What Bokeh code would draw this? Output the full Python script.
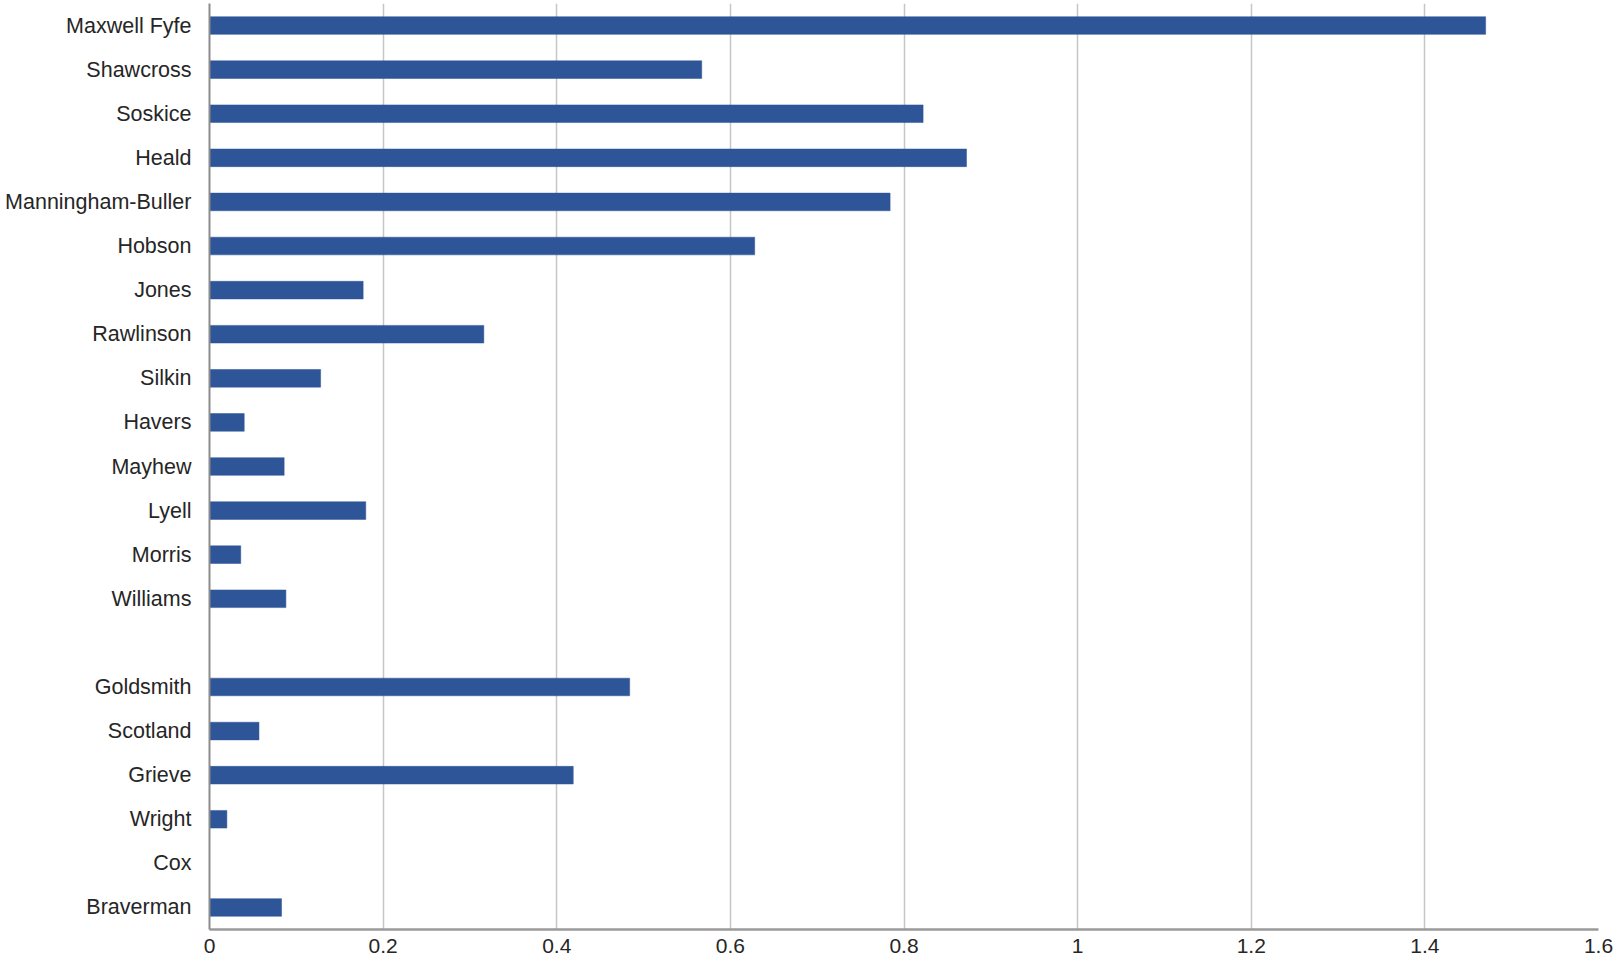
from bokeh.plotting import figure
from bokeh.models import FactorRange, FixedTicker, Range1d
from bokeh.embed import file_html
from bokeh.resources import INLINE

names = ["Maxwell Fyfe", "Shawcross", "Soskice", "Heald", "Manningham-Buller",
         "Hobson", "Jones", "Rawlinson", "Silkin", "Havers", "Mayhew", "Lyell",
         "Morris", "Williams", " ", "Goldsmith", "Scotland", "Grieve", "Wright",
         "Cox", "Braverman"]
values = [1.47, 0.567, 0.822, 0.872, 0.784, 0.628, 0.177, 0.316, 0.128, 0.040,
          0.086, 0.180, 0.036, 0.088, 0.0, 0.484, 0.057, 0.419, 0.02, 0.0, 0.083]
tick_values = [0, 0.2, 0.4, 0.6, 0.8, 1.0, 1.2, 1.4, 1.6]
tick_labels = ["0", "0.2", "0.4", "0.6", "0.8", "1", "1.2", "1.4", "1.6"]

bar_names = [n for n in names if n.strip()]
bar_values = [v for n, v in zip(names, values) if n.strip()]

p = figure(width=1617, height=963, output_backend="svg", toolbar_location=None,
           y_range=FactorRange(factors=list(reversed(names)), range_padding=0),
           x_range=Range1d(0, 1.6))
p.min_border_left = 209
p.min_border_right = 19
p.min_border_top = 3
p.min_border_bottom = 34
p.outline_line_color = None

p.hbar(y=bar_names, right=bar_values, left=0, height=0.4,
       fill_color="#2E5597", line_color="#2E5597", line_width=0.5)

p.ygrid.grid_line_color = None
p.xgrid.grid_line_color = "#c6c6c6"
p.xgrid.grid_line_width = 1.5

p.xaxis.ticker = FixedTicker(ticks=tick_values)
p.xaxis.major_label_overrides = {t: l for t, l in zip(tick_values, tick_labels)}
p.xaxis.major_tick_line_color = None
p.xaxis.minor_tick_line_color = None
p.xaxis.major_tick_out = 0
p.xaxis.major_label_standoff = 9
p.xaxis.axis_line_color = "#9a9a9a"
p.xaxis.axis_line_width = 2.5
p.xaxis.major_label_text_font = "Liberation Sans"
p.xaxis.major_label_text_font_size = "21px"
p.xaxis.major_label_text_color = "#262626"

p.yaxis.major_tick_line_color = None
p.yaxis.minor_tick_line_color = None
p.yaxis.major_tick_out = 0
p.yaxis.major_label_standoff = 18
p.yaxis.axis_line_color = "#8c8c8c"
p.yaxis.axis_line_width = 2
p.yaxis.major_label_text_font = "Liberation Sans"
p.yaxis.major_label_text_font_size = "21.5px"
p.yaxis.major_label_text_color = "#262626"

open("out.html", "w").write(file_html(p, INLINE))
